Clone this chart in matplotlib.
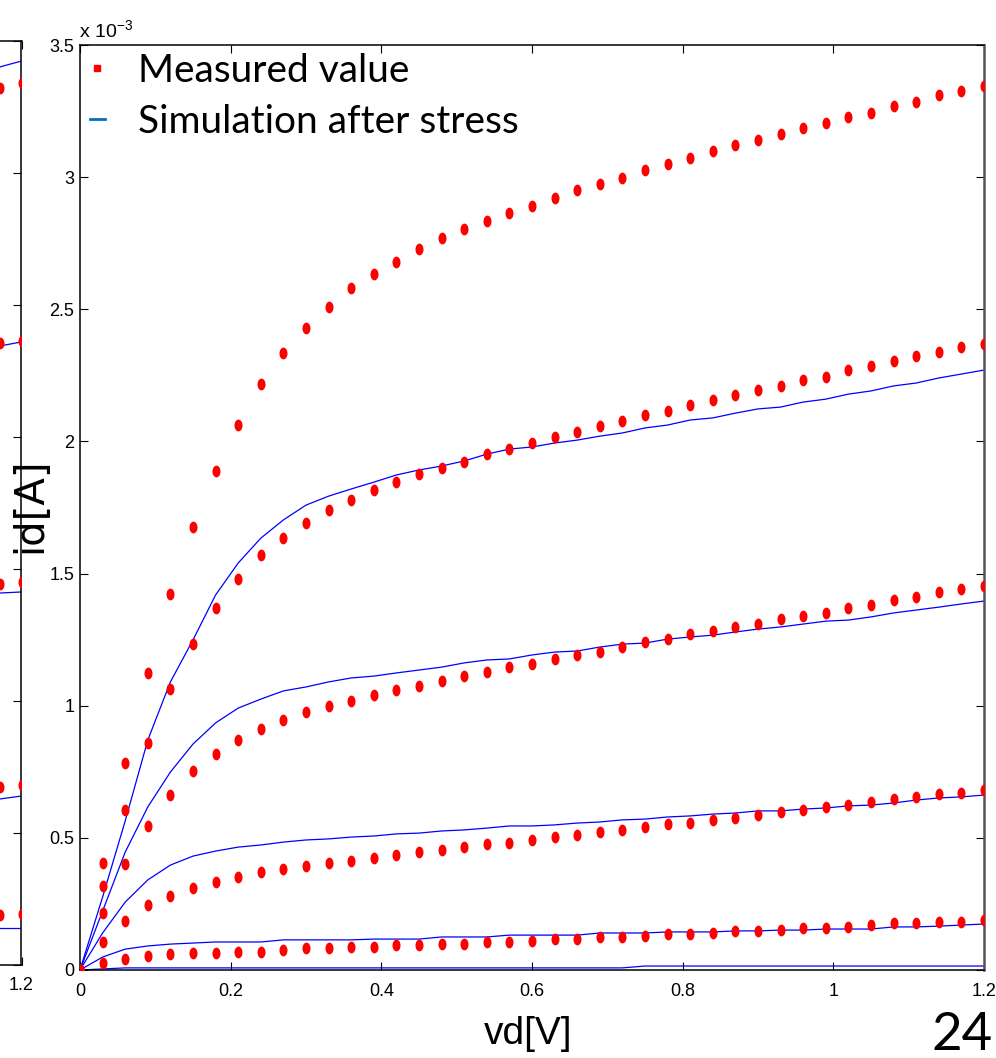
import matplotlib.pyplot as plt
from matplotlib.lines import Line2D
from matplotlib.path import Path

# drain voltage sweep [V]
vd = [0.00, 0.03, 0.06, 0.09, 0.12, 0.15, 0.18, 0.21, 0.24, 0.27,
      0.30, 0.33, 0.36, 0.39, 0.42, 0.45, 0.48, 0.51, 0.54, 0.57,
      0.60, 0.63, 0.66, 0.69, 0.72, 0.75, 0.78, 0.81, 0.84, 0.87,
      0.90, 0.93, 0.96, 0.99, 1.02, 1.05, 1.08, 1.11, 1.14, 1.17, 1.20]

# drain current, in units of 1e-3 A
meas_1 = [0, 0.405, 0.783, 1.124, 1.423, 1.676, 1.888, 2.062, 2.217, 2.334,
          2.429, 2.509, 2.580, 2.633, 2.679, 2.728, 2.770, 2.804, 2.834, 2.864,
          2.891, 2.921, 2.951, 2.974, 2.997, 3.027, 3.050, 3.072, 3.099, 3.121,
          3.140, 3.163, 3.186, 3.205, 3.227, 3.243, 3.269, 3.284, 3.311, 3.326, 3.345]
meas_2 = [0, 0.318, 0.605, 0.859, 1.063, 1.233, 1.370, 1.479, 1.570, 1.634,
          1.691, 1.740, 1.778, 1.816, 1.846, 1.877, 1.899, 1.922, 1.952, 1.971,
          1.994, 2.017, 2.036, 2.058, 2.077, 2.100, 2.115, 2.138, 2.157, 2.176,
          2.194, 2.210, 2.232, 2.244, 2.270, 2.285, 2.304, 2.323, 2.338, 2.357, 2.369]
meas_3 = [0, 0.216, 0.401, 0.545, 0.662, 0.753, 0.817, 0.870, 0.912, 0.946,
          0.976, 0.999, 1.018, 1.040, 1.059, 1.075, 1.093, 1.112, 1.128, 1.146,
          1.158, 1.177, 1.192, 1.203, 1.222, 1.241, 1.252, 1.271, 1.283, 1.298,
          1.309, 1.328, 1.339, 1.351, 1.370, 1.381, 1.400, 1.411, 1.430, 1.442, 1.453]
meas_4 = [0, 0.106, 0.185, 0.246, 0.280, 0.310, 0.333, 0.352, 0.371, 0.382,
          0.393, 0.405, 0.412, 0.424, 0.435, 0.446, 0.454, 0.465, 0.477, 0.480,
          0.492, 0.503, 0.511, 0.522, 0.530, 0.541, 0.552, 0.556, 0.568, 0.575,
          0.586, 0.598, 0.605, 0.617, 0.624, 0.636, 0.647, 0.655, 0.666, 0.670, 0.681]
meas_5 = [0, 0.026, 0.042, 0.053, 0.061, 0.064, 0.064, 0.068, 0.068, 0.076,
          0.083, 0.083, 0.087, 0.087, 0.095, 0.095, 0.098, 0.098, 0.106, 0.106,
          0.110, 0.117, 0.117, 0.125, 0.125, 0.129, 0.136, 0.136, 0.140, 0.148,
          0.148, 0.151, 0.159, 0.159, 0.163, 0.170, 0.178, 0.178, 0.182, 0.182, 0.189]

sim_1 = [0, 0.276, 0.564, 0.870, 1.090, 1.249, 1.419, 1.540, 1.634, 1.703,
         1.759, 1.793, 1.820, 1.846, 1.873, 1.892, 1.907, 1.926, 1.952, 1.971,
         1.979, 1.994, 2.005, 2.020, 2.032, 2.051, 2.062, 2.081, 2.089, 2.107,
         2.123, 2.130, 2.149, 2.160, 2.179, 2.191, 2.210, 2.221, 2.240, 2.255, 2.270]
sim_2 = [0, 0.223, 0.446, 0.617, 0.749, 0.855, 0.935, 0.991, 1.025, 1.056,
         1.071, 1.090, 1.105, 1.112, 1.124, 1.135, 1.146, 1.162, 1.173, 1.177,
         1.192, 1.203, 1.207, 1.222, 1.233, 1.237, 1.252, 1.260, 1.267, 1.279,
         1.290, 1.298, 1.309, 1.320, 1.324, 1.336, 1.351, 1.362, 1.373, 1.385, 1.396]
sim_3 = [0, 0.140, 0.257, 0.341, 0.397, 0.431, 0.450, 0.465, 0.473, 0.484,
         0.492, 0.496, 0.503, 0.507, 0.515, 0.518, 0.526, 0.530, 0.537, 0.545,
         0.545, 0.549, 0.556, 0.560, 0.568, 0.571, 0.579, 0.583, 0.590, 0.594,
         0.602, 0.602, 0.609, 0.613, 0.621, 0.624, 0.632, 0.643, 0.651, 0.655, 0.662]
sim_4 = [0, 0.049, 0.079, 0.091, 0.098, 0.102, 0.106, 0.106, 0.106, 0.114,
         0.114, 0.114, 0.114, 0.117, 0.117, 0.117, 0.125, 0.125, 0.125, 0.132,
         0.132, 0.132, 0.132, 0.140, 0.140, 0.140, 0.144, 0.144, 0.144, 0.148,
         0.148, 0.151, 0.151, 0.155, 0.155, 0.155, 0.163, 0.163, 0.166, 0.170, 0.174]
sim_5 = [0, 0.004, 0.008, 0.008, 0.008, 0.008, 0.008, 0.008, 0.008, 0.008,
         0.008, 0.008, 0.008, 0.008, 0.008, 0.008, 0.008, 0.008, 0.008, 0.008,
         0.008, 0.008, 0.008, 0.008, 0.008, 0.015, 0.015, 0.015, 0.015, 0.015,
         0.015, 0.015, 0.015, 0.015, 0.015, 0.015, 0.015, 0.015, 0.015, 0.015, 0.015]

measured = [meas_1, meas_2, meas_3, meas_4, meas_5]
simulated = [sim_1, sim_2, sim_3, sim_4, sim_5]

# neighbouring panel on the slide, only its right edge is visible
left_vd = [1.17, 1.20]
left_measured = [[3.322, 3.341], [2.356, 2.364], [1.443, 1.451], [0.674, 0.682], [0.189, 0.193]]
left_simulated = [[3.402, 3.424], [2.345, 2.360], [1.409, 1.413], [0.629, 0.640], [0.140, 0.140]]

xticks = [0, 0.2, 0.4, 0.6, 0.8, 1.0, 1.2]
xtick_labels = ["0", "0.2", "0.4", "0.6", "0.8", "1", "1.2"]
yticks = [0, 0.5, 1.0, 1.5, 2.0, 2.5, 3.0, 3.5]
ytick_labels = ["0", "0.5", "1", "1.5", "2", "2.5", "3", "3.5"]

plt.rcParams['font.family'] = ['Liberation Sans Narrow', 'Liberation Sans', 'DejaVu Sans']
plt.rcParams['mathtext.fontset'] = 'custom'
plt.rcParams['mathtext.rm'] = 'Liberation Sans'
plt.rcParams['mathtext.default'] = 'rm'

# slightly tall dots, like the squashed screenshot
circ = Path.unit_circle()
dot = Path(circ.vertices * [0.68, 1.0], circ.codes)

W, H = 996, 1058
fig = plt.figure(figsize=(W / 100, H / 100), dpi=100)


def px_box(left, top, right, bottom):
    return [left / W, 1 - bottom / H, (right - left) / W, (bottom - top) / H]


def style(ax):
    ax.set_xlim(0, 1.2)
    ax.set_ylim(0, 3.5)
    ax.set_xticks(xticks)
    ax.set_xticklabels(xtick_labels)
    ax.set_yticks(yticks)
    ax.set_yticklabels(ytick_labels)
    ax.tick_params(direction='in', top=True, right=True, length=6, width=0.8,
                   labelsize=13, colors='black')
    ax.tick_params(axis='x', pad=9)
    ax.tick_params(axis='y', pad=4)
    for s in ax.spines.values():
        s.set_linewidth(1.1)


def draw(ax, x, meas, sim):
    for ys in sim:
        ax.plot(x, ys, color='#0000ff', lw=0.9, zorder=2)
    for ys in meas:
        ax.plot(x, ys, ls='none', marker=dot, markersize=8.5, color='#ff0000',
                markeredgewidth=0, zorder=3)


ax_left = fig.add_axes(px_box(-838.5, 41, 21.5, 965))
style(ax_left)
# only the last x label of this panel lies on the slide
ax_left.set_xticklabels([""] * (len(xticks) - 1) + [xtick_labels[-1]])
ax_left.tick_params(axis='y', labelleft=False)
draw(ax_left, left_vd, left_measured, left_simulated)

ax = fig.add_axes(px_box(80, 45, 984, 970))
style(ax)
ax.spines['right'].set_color('#555555')
ax.spines['right'].set_linewidth(1.8)
draw(ax, vd, measured, simulated)

handles = [Line2D([], [], ls='none', marker='s', markersize=5, color='#ff0000'),
           Line2D([], [], ls='-', lw=2, color='#0070c0')]
ax.legend(handles, ['Measured value', 'Simulation after stress'],
          loc='upper left', bbox_to_anchor=(74 / W, 1 - 37 / H),
          bbox_transform=fig.transFigure, frameon=False, borderaxespad=0,
          prop={'family': 'Lato', 'size': 28}, handlelength=0.4,
          handletextpad=0.85, labelspacing=0.4)

fig.text(79 / W, 1 - 37 / H, r'x 10$^{-3}$', ha='left', va='baseline', fontsize=14)
fig.text(30 / W, 1 - 505 / H, 'id[A]', rotation=90, ha='center', va='center',
         fontsize=29, family='DejaVu Sans')
fig.text(528 / W, 1 - 1034 / H, 'vd[V]', ha='center', va='center', fontsize=28)
fig.text(962 / W, 1 - 1036 / H, '24', ha='center', va='center', fontsize=38,
         family='Lato')

fig.savefig('out.png', dpi=100)
